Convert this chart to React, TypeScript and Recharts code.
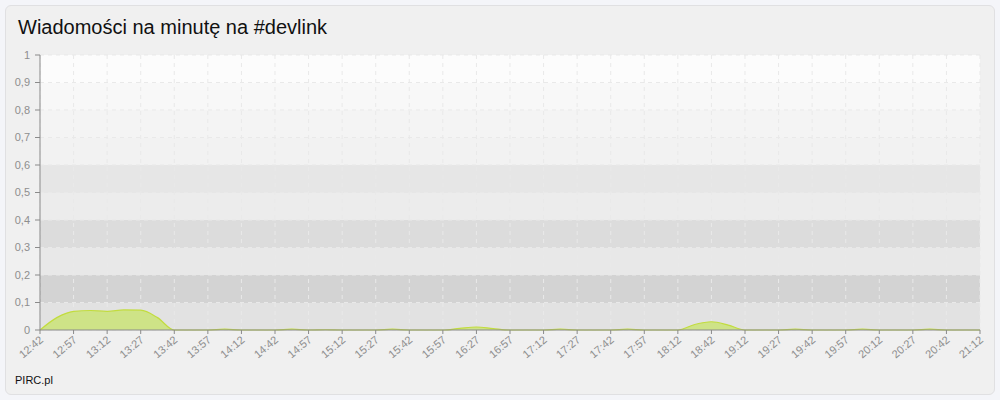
import { Area, AreaChart, CartesianGrid, XAxis, YAxis } from "recharts";

const timeLabels = [
  "12:42", "12:57", "13:12", "13:27", "13:42", "13:57", "14:12", "14:42", "14:57", "15:12",
  "15:27", "15:42", "15:57", "16:27", "16:57", "17:12", "17:27", "17:42", "17:57", "18:12",
  "18:42", "19:12", "19:27", "19:42", "19:57", "20:12", "20:27", "20:42", "21:12",
];

// messages per minute, sampled at every half label step
const messagesPerMinute = [
  0, 0.045, 0.068, 0.071, 0.068, 0.073, 0.072, 0.045, 0,
  0, 0, 0.003, 0, 0, 0, 0.003, 0, 0.001,
  0, 0, 0, 0.003, 0, 0, 0, 0.006, 0.011,
  0.005, 0, 0, 0, 0.003, 0, 0, 0, 0.003,
  0, 0, 0, 0.02, 0.03, 0.018, 0, 0, 0,
  0.003, 0, 0, 0, 0.003, 0, 0, 0, 0.003,
  0, 0, 0,
];

const yTicks = [0, 0.1, 0.2, 0.3, 0.4, 0.5, 0.6, 0.7, 0.8, 0.9, 1];

// stripes top to bottom
const stripeFills = [
  "#fcfcfc", "#f8f8f8", "#f4f4f4", "#f2f2f2", "#e6e6e6",
  "#ececec", "#dcdcdc", "#e8e8e8", "#d3d3d3", "#e2e2e2",
];

const data = messagesPerMinute.map((v, i) => ({ x: i / 2, v }));

const font = "'Liberation Sans', Arial, sans-serif";

function TimeTick({ x, y, payload }: any) {
  return (
    <g transform={`translate(${x + 4},${y + 7})`}>
      <text textAnchor="end" transform="rotate(-40)" fill="#8e8e8e" fontSize={11} fontFamily={font}>
        {timeLabels[payload.value]}
      </text>
    </g>
  );
}

export default function App() {
  return (
    <div style={{ position: "absolute", left: 0, top: 0, width: 1000, height: 400, background: "#f4f5f9", fontFamily: font }}>
      <div
        style={{
          position: "absolute", left: 5, top: 5, width: 988, height: 388,
          background: "#f0f0f0", border: "1px solid #e0e0e2", borderRadius: 6,
        }}
      />
      <div style={{ position: "absolute", left: 18, top: 16, fontSize: 20, color: "#111" }}>
        Wiadomości na minutę na #devlink
      </div>
      <div style={{ position: "absolute", left: 15, top: 374, fontSize: 11, color: "#111" }}>PIRC.pl</div>
      <div style={{ position: "absolute", left: 0, top: 0 }}>
        <AreaChart width={1000} height={400} data={data} margin={{ top: 55, right: 20, left: 0, bottom: 0 }}>
          <CartesianGrid stroke="#e9e9e9" strokeDasharray="4 4" horizontalFill={stripeFills} fillOpacity={1} />
          <Area
            type="monotone"
            dataKey="v"
            stroke="#c2dc3e"
            strokeWidth={1.2}
            fill="#cee387"
            fillOpacity={1}
            isAnimationActive={false}
          />
          <XAxis
            dataKey="x"
            type="number"
            domain={[0, 28]}
            ticks={timeLabels.map((_, i) => i)}
            interval={0}
            height={70}
            tickSize={4}
            tickMargin={0}
            stroke="#8a8a8a"
            tick={<TimeTick />}
            zIndex={1000}
          />
          <YAxis
            domain={[0, 1]}
            ticks={yTicks}
            width={40}
            tickSize={5}
            tickMargin={5}
            stroke="#8a8a8a"
            tick={{ fill: "#8e8e8e", fontSize: 11, fontFamily: font }}
            tickFormatter={(v: number) => String(v).replace(".", ",")}
            zIndex={1000}
          />
        </AreaChart>
      </div>
    </div>
  );
}
